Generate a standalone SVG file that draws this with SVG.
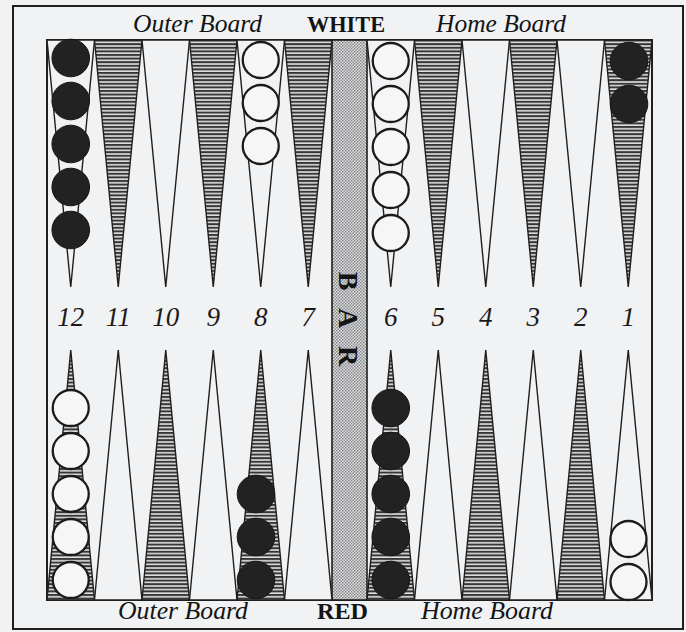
<svg xmlns="http://www.w3.org/2000/svg" width="686" height="632" viewBox="0 0 686 632">
<style>
.bg{fill:#f1f2f4}
.frame{fill:none;stroke:#1f1f1f;stroke-width:2}
.tw{fill:#f1f2f4;stroke:#1f1f1f;stroke-width:1.4;stroke-linejoin:miter}
.ts{fill:url(#hatch);stroke:#1f1f1f;stroke-width:1.4}
.bk{fill:#222;stroke:#161616;stroke-width:1}
.wh{fill:#f6f6f6;stroke:#1b1b1b;stroke-width:2.3}
.lbl{font-family:"Liberation Serif","Times New Roman",serif;font-style:italic;font-size:25px;fill:#141414;text-anchor:middle}
.side{font-family:"Liberation Serif","Times New Roman",serif;font-weight:bold;font-size:24px;fill:#141414;text-anchor:middle}
.num{font-family:"Liberation Serif","Times New Roman",serif;font-style:italic;font-size:27px;fill:#1a1a1a;text-anchor:middle}
.bar{font-family:"Liberation Serif","Times New Roman",serif;font-weight:bold;font-size:28px;fill:#141414;text-anchor:middle}
</style>
<defs>
<pattern id="hatch" patternUnits="userSpaceOnUse" width="6" height="3.6">
<rect width="6" height="3.6" fill="#dfe0e2"/>
<rect y="0" width="6" height="2" fill="#363636"/>
</pattern>
<pattern id="stipple" patternUnits="userSpaceOnUse" width="3" height="3">
<rect width="3" height="3" fill="#dcdde0"/>
<rect x="0" y="0" width="1.4" height="1.4" fill="#808080"/>
<rect x="1.5" y="1.5" width="1.4" height="1.4" fill="#808080"/>
</pattern>
</defs>
<rect class="bg" x="0" y="0" width="686" height="632"/>
<g id="frame">
<rect class="frame" x="13" y="6" width="670" height="623"/>
<rect class="frame" x="47" y="40" width="605" height="560"/>
</g>
<g id="bar">
<rect x="332" y="40" width="35" height="560" fill="url(#stipple)" stroke="#1f1f1f" stroke-width="1.6"/>
<text class="bar" transform="translate(349,318) rotate(90)" x="-37 0 38" y="10">BAR</text>
</g>
<g id="top-points">
<polygon class="tw" points="47,40 94.5,40 70.75,287"/>
<polygon class="ts" points="94.5,40 142,40 118.25,287"/>
<polygon class="tw" points="142,40 189.5,40 165.75,287"/>
<polygon class="ts" points="189.5,40 237,40 213.25,287"/>
<polygon class="tw" points="237,40 284.5,40 260.75,287"/>
<polygon class="ts" points="284.5,40 332,40 308.25,287"/>
<polygon class="tw" points="367,40 414.5,40 390.75,287"/>
<polygon class="ts" points="414.5,40 462,40 438.25,287"/>
<polygon class="tw" points="462,40 509.5,40 485.75,287"/>
<polygon class="ts" points="509.5,40 557,40 533.25,287"/>
<polygon class="tw" points="557,40 604.5,40 580.75,287"/>
<polygon class="ts" points="604.5,40 652,40 628.25,287"/>
</g>
<g id="bottom-points">
<polygon class="ts" points="47,600 94.5,600 70.75,350"/>
<polygon class="tw" points="94.5,600 142,600 118.25,350"/>
<polygon class="ts" points="142,600 189.5,600 165.75,350"/>
<polygon class="tw" points="189.5,600 237,600 213.25,350"/>
<polygon class="ts" points="237,600 284.5,600 260.75,350"/>
<polygon class="tw" points="284.5,600 332,600 308.25,350"/>
<polygon class="ts" points="367,600 414.5,600 390.75,350"/>
<polygon class="tw" points="414.5,600 462,600 438.25,350"/>
<polygon class="ts" points="462,600 509.5,600 485.75,350"/>
<polygon class="tw" points="509.5,600 557,600 533.25,350"/>
<polygon class="ts" points="557,600 604.5,600 580.75,350"/>
<polygon class="tw" points="604.5,600 652,600 628.25,350"/>
</g>
<g id="checkers">
<circle class="bk" cx="70.75" cy="58" r="18.8"/>
<circle class="bk" cx="70.75" cy="101" r="18.8"/>
<circle class="bk" cx="70.75" cy="144" r="18.8"/>
<circle class="bk" cx="70.75" cy="187" r="18.8"/>
<circle class="bk" cx="70.75" cy="230" r="18.8"/>
<circle class="wh" cx="260.75" cy="60" r="18"/>
<circle class="wh" cx="260.75" cy="103" r="18"/>
<circle class="wh" cx="260.75" cy="146" r="18"/>
<circle class="wh" cx="390.75" cy="61" r="18"/>
<circle class="wh" cx="390.75" cy="104" r="18"/>
<circle class="wh" cx="390.75" cy="147" r="18"/>
<circle class="wh" cx="390.75" cy="190" r="18"/>
<circle class="wh" cx="390.75" cy="233" r="18"/>
<circle class="bk" cx="629" cy="61" r="18.8"/>
<circle class="bk" cx="629" cy="104" r="18.8"/>
<circle class="wh" cx="70.75" cy="408" r="18"/>
<circle class="wh" cx="70.75" cy="451" r="18"/>
<circle class="wh" cx="70.75" cy="494" r="18"/>
<circle class="wh" cx="70.75" cy="537" r="18"/>
<circle class="wh" cx="70.75" cy="580" r="18"/>
<circle class="bk" cx="256" cy="494" r="18.8"/>
<circle class="bk" cx="256" cy="537" r="18.8"/>
<circle class="bk" cx="256" cy="580" r="18.8"/>
<circle class="bk" cx="390.75" cy="408" r="18.8"/>
<circle class="bk" cx="390.75" cy="451" r="18.8"/>
<circle class="bk" cx="390.75" cy="494" r="18.8"/>
<circle class="bk" cx="390.75" cy="537" r="18.8"/>
<circle class="bk" cx="390.75" cy="580" r="18.8"/>
<circle class="wh" cx="628.5" cy="539" r="18"/>
<circle class="wh" cx="628.5" cy="582" r="18"/>
</g>
<g id="numbers">
<text class="num" x="70.75" y="326">12</text>
<text class="num" x="118.25" y="326">11</text>
<text class="num" x="165.75" y="326">10</text>
<text class="num" x="213.25" y="326">9</text>
<text class="num" x="260.75" y="326">8</text>
<text class="num" x="308.25" y="326">7</text>
<text class="num" x="390.75" y="326">6</text>
<text class="num" x="438.25" y="326">5</text>
<text class="num" x="485.75" y="326">4</text>
<text class="num" x="533.25" y="326">3</text>
<text class="num" x="580.75" y="326">2</text>
<text class="num" x="628.25" y="326">1</text>
</g>
<g id="labels">
<text class="lbl" x="197.5" y="32" textLength="129" lengthAdjust="spacingAndGlyphs">Outer Board</text>
<text class="side" x="346" y="32" textLength="78" lengthAdjust="spacingAndGlyphs">WHITE</text>
<text class="lbl" x="501" y="32" textLength="130" lengthAdjust="spacingAndGlyphs">Home Board</text>
<text class="lbl" x="183" y="619" textLength="130" lengthAdjust="spacingAndGlyphs">Outer Board</text>
<text class="side" x="342.5" y="619" textLength="51" lengthAdjust="spacingAndGlyphs">RED</text>
<text class="lbl" x="487" y="619" textLength="132" lengthAdjust="spacingAndGlyphs">Home Board</text>
</g>
</svg>
